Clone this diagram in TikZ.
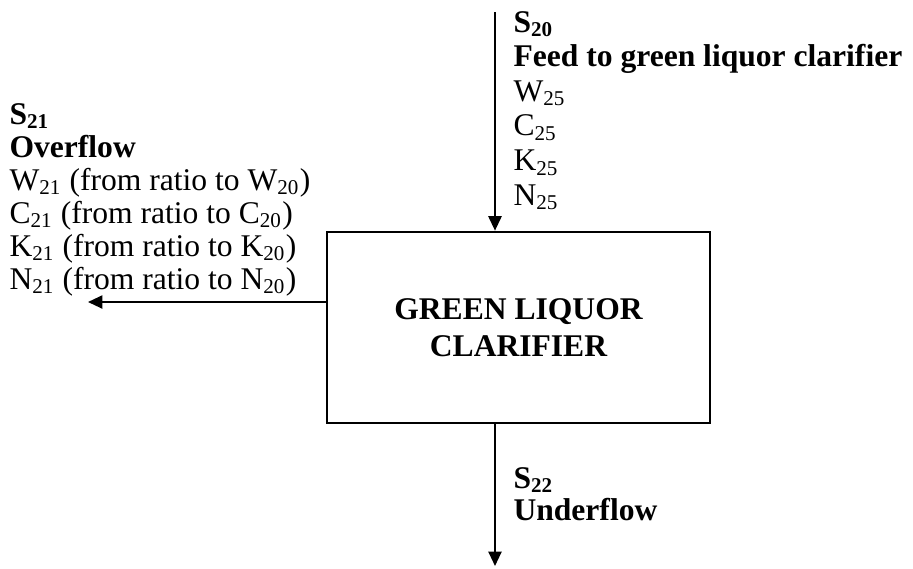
\documentclass[tikz,border=0pt]{standalone}
\usepackage{fontspec}
\setmainfont{Liberation Serif}
\usetikzlibrary{arrows.meta,positioning}

\tikzset{
  flow/.style={draw,line width=0.75pt,-{Triangle[length=5.5pt,width=5pt]}},
  unit/.style={draw,line width=1pt,minimum width=145.5pt,minimum height=72.6pt,
    inner sep=0pt,align=center,font=\bfseries\fontsize{12}{14}\selectfont},
  txt/.style={anchor=base west,inner sep=0pt,font=\fontsize{12}{14}\selectfont},
}

\begin{document}
\begin{tikzpicture}[x=0.38pt,y=-0.38pt]
  \useasboundingbox (0,0) rectangle (913,568);

  % clarifier
  \node[unit] (clar) at (518.5,327.5) {GREEN LIQUOR\\CLARIFIER};

  % stream ends
  \coordinate (feedin) at (495,12);
  \coordinate (under) at (495,566);
  \coordinate (over) at (88,302);

  \draw[flow] (feedin) -- (feedin |- clar.north);
  \draw[flow] (under |- clar.south) -- (under);
  \draw[flow] (clar.west |- over) -- (over);

  % feed labels
  \node[txt] (s20) at (513,32) {\textbf{S\textsubscript{20}}};
  \node[txt] (feed) at (513,66.6) {\textbf{Feed to green liquor clarifier}};
  \node[txt] (w25) at (513,101.2) {W\textsubscript{25}};
  \node[txt] (c25) at (513,135.8) {C\textsubscript{25}};
  \node[txt] (k25) at (513,170.4) {K\textsubscript{25}};
  \node[txt] (n25) at (513,205) {N\textsubscript{25}};

  % overflow labels
  \node[txt] (s21) at (9,124) {\textbf{S\textsubscript{21}}};
  \node[txt] (ovf) at (9,157) {\textbf{Overflow}};
  \node[txt] (w21) at (9,190) {W\textsubscript{21} (from ratio to W\textsubscript{20})};
  \node[txt] (c21) at (9,223) {C\textsubscript{21} (from ratio to C\textsubscript{20})};
  \node[txt] (k21) at (9,256) {K\textsubscript{21} (from ratio to K\textsubscript{20})};
  \node[txt] (n21) at (9,289) {N\textsubscript{21} (from ratio to N\textsubscript{20})};

  % underflow labels
  \node[txt] (s22) at (513,488) {\textbf{S\textsubscript{22}}};
  \node[txt] (udf) at (513,520) {\textbf{Underflow}};
\end{tikzpicture}
\end{document}
